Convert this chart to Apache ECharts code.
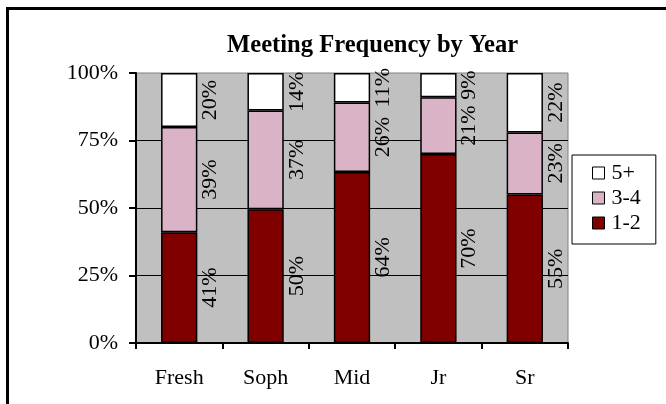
<!DOCTYPE html>
<html>
<head>
<meta charset="utf-8">
<style>
html,body{margin:0;padding:0;background:#fff;}
#chart{width:666px;height:404px;}
</style>
<script src="https://cdn.jsdelivr.net/npm/echarts@6/dist/echarts.min.js"></script>
</head>
<body>
<div id="chart"></div>
<script>
const categories = ['Fresh', 'Soph', 'Mid', 'Jr', 'Sr'];
const seriesNames = ['1-2', '3-4', '5+'];
const values12 = [41, 50, 64, 70, 55];
const values34 = [39, 37, 26, 21, 23];
const values5p = [20, 14, 11, 9, 22];
const yTicks = [0, 25, 50, 75, 100];

const FONT = "'Times New Roman', 'Liberation Serif', serif";
const colors = ['#800000', '#dab3c7', '#ffffff'];
const raw = [values12, values34, values5p];
const totals = categories.map((c, i) => raw.reduce((s, arr) => s + arr[i], 0));

const chart = echarts.init(document.getElementById('chart'));

const series = seriesNames.map((name, si) => ({
  name: name,
  type: 'bar',
  stack: 'all',
  barWidth: '42%',
  clip: false,
  itemStyle: { color: colors[si], borderColor: '#000', borderWidth: 1.5 },
  label: {
    show: true,
    position: 'right',
    distance: 2,
    rotate: 90,
    align: 'center',
    verticalAlign: 'top',
    fontFamily: FONT,
    fontSize: 22,
    color: '#000',
    formatter: p => raw[si][p.dataIndex] + '%'
  },
  emphasis: { disabled: true },
  data: raw[si].map((v, i) => ({ value: v / totals[i] * 100, raw: v }))
}));

chart.setOption({
  animation: false,
  backgroundColor: '#fff',
  title: {
    text: 'Meeting Frequency by Year',
    left: 227,
    top: 33,
    padding: 0,
    textStyle: { fontFamily: FONT, fontSize: 24.6, fontWeight: 'bold', color: '#000' }
  },
  legend: {
    data: ['5+', '3-4', '1-2'],
    orient: 'vertical',
    left: 572,
    top: 155,
    padding: [7, 15, 10, 20],
    itemGap: 3,
    itemWidth: 12,
    itemHeight: 12,
    icon: 'rect',
    backgroundColor: '#fff',
    borderColor: '#000',
    borderWidth: 1,
    borderRadius: 0,
    itemStyle: { borderColor: '#000', borderWidth: 1 },
    textStyle: { fontFamily: FONT, fontSize: 22, color: '#000', padding: [0, 0, 0, 2] }
  },
  graphic: [{
    type: 'rect',
    shape: { x: 7.5, y: 8.5, width: 700, height: 500 },
    style: { fill: 'none', stroke: '#000', lineWidth: 3 },
    silent: true
  }],
  grid: {
    left: 136, right: 98, top: 73, bottom: 61,
    show: true,
    backgroundColor: '#c0c0c0',
    borderColor: '#808080',
    borderWidth: 1
  },
  xAxis: {
    type: 'category',
    data: categories,
    axisLine: { lineStyle: { color: '#000', width: 2 } },
    axisTick: { show: true, length: 6, lineStyle: { color: '#000', width: 2 } },
    axisLabel: { fontFamily: FONT, fontSize: 22, color: '#000', margin: 24 }
  },
  yAxis: {
    type: 'value',
    min: yTicks[0],
    max: yTicks[yTicks.length - 1],
    interval: yTicks[1] - yTicks[0],
    axisLine: { show: true, lineStyle: { color: '#000', width: 2 } },
    axisTick: { show: true, length: 7, lineStyle: { color: '#000', width: 2 } },
    axisLabel: { fontFamily: FONT, fontSize: 22, color: '#000', margin: 18, padding: [5, 0, 0, 0], formatter: '{value}%' },
    splitLine: { show: true, showMaxLine: false, lineStyle: { color: '#000', width: 1 } }
  },
  series: series
});
</script>
</body>
</html>
